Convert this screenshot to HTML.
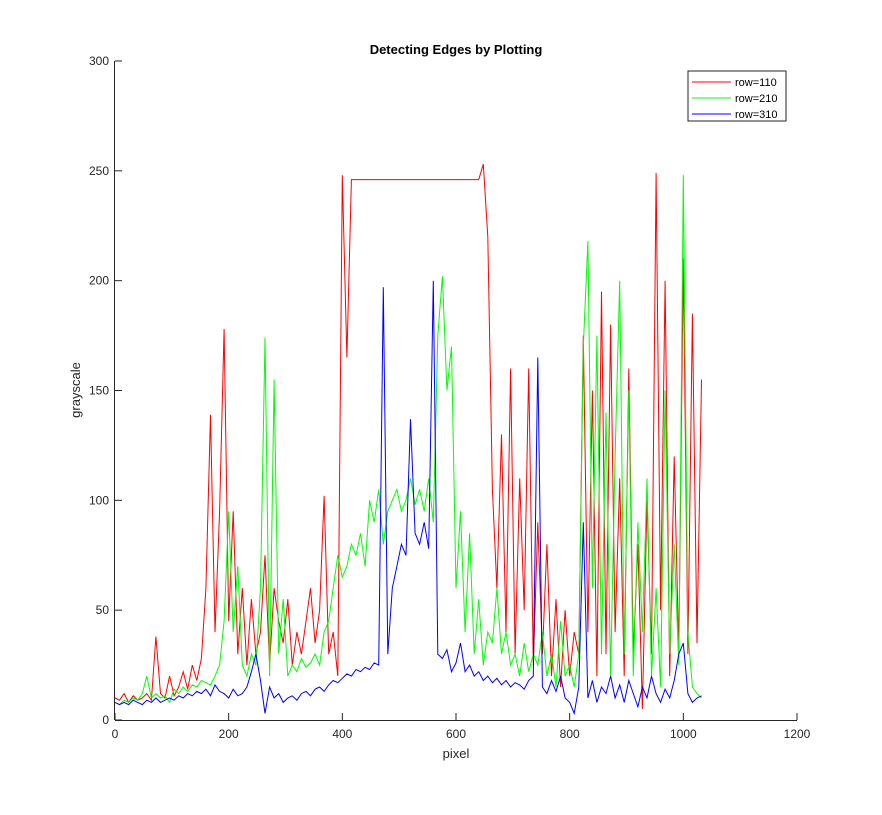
<!DOCTYPE html>
<html><head><meta charset="utf-8"><style>
body{margin:0;background:#fff;}
svg text{font-family:"Liberation Sans",Arial,sans-serif;}
</style></head><body>
<svg id="chart" width="882" height="810" xmlns="http://www.w3.org/2000/svg">
<rect width="882" height="810" fill="#fff"/>
<text x="456" y="54" text-anchor="middle" font-size="13" font-weight="bold" fill="#000">Detecting Edges by Plotting</text>
<g id="plot"></g>
<g id="axes"></g>
<text x="456" y="758" text-anchor="middle" font-size="13" fill="#262626">pixel</text>
<text x="80" y="390" text-anchor="middle" font-size="13" fill="#262626" transform="rotate(-90 80 390)">grayscale</text>
<g>
<rect x="688" y="71" width="98" height="50" fill="#fff" stroke="#262626" stroke-width="1"/>
<line x1="692" y1="82" x2="731" y2="82" stroke="#f00"/><text x="735" y="86" font-size="11">row=110</text>
<line x1="692" y1="98" x2="731" y2="98" stroke="#0f0"/><text x="735" y="102" font-size="11">row=210</text>
<line x1="692" y1="114" x2="731" y2="114" stroke="#00f"/><text x="735" y="118" font-size="11">row=310</text>
</g>
</svg>
<script>
const xStep = 8;
const xTicks = [0,200,400,600,800,1000,1200];
const yTicks = [0,50,100,150,200,250,300];
const red = [10,9,12,8,11,9,10,12,9,38,12,10,20,11,15,22,14,25,18,28,60,139,40,95,178,45,95,30,60,25,55,30,40,75,25,60,45,35,55,25,40,30,45,60,35,50,102,30,40,20,248,165,
246,246,246,246,246,246,246,246,246,246,246,246,246,246,246,246,246,246,246,246,246,246,246,246,246,246,246,246,246,
253,220,105,60,130,40,160,30,110,50,160,25,90,30,80,20,55,15,50,20,40,30,175,40,150,20,195,30,180,40,110,20,160,30,80,5,100,30,249,50,200,20,120,30,210,30,185,35,155];
const green = [8,7,9,8,10,9,12,20,10,12,10,11,8,14,12,15,13,16,15,18,17,16,20,25,45,95,40,70,25,20,30,25,60,174,20,155,30,55,20,25,22,28,24,26,30,25,40,45,60,75,65,70,80,75,85,70,100,90,105,80,95,100,105,95,100,110,98,105,95,110,90,175,202,150,170,60,95,40,85,30,55,25,40,35,60,30,40,25,30,20,35,22,30,25,40,20,30,15,45,20,25,15,30,170,218,60,175,30,140,20,120,200,30,150,20,90,40,110,20,60,15,150,30,80,25,248,40,15,12,10];
const blue = [8,7,8,7,9,8,7,9,8,10,8,9,10,9,11,10,12,11,13,12,14,11,16,13,12,10,14,11,12,15,22,30,18,3,15,10,12,8,10,11,9,12,13,11,14,15,13,16,18,17,19,21,20,23,22,24,23,26,25,197,30,60,70,80,75,137,85,80,90,78,200,30,28,32,22,26,35,22,25,20,22,18,20,17,19,16,18,15,17,16,14,18,20,165,15,12,18,13,20,10,8,3,15,90,10,18,8,15,12,20,10,16,8,18,12,6,15,10,20,12,8,14,10,18,30,35,12,8,10,11];
const X0=115,X1=797,Y0=720,Y1=61;
const xs=v=>X0+(v/1200)*(X1-X0);
const ys=v=>Y0-(v/300)*(Y0-Y1);
const NS="http://www.w3.org/2000/svg";
const plot=document.getElementById('plot'), axes=document.getElementById('axes');
function series(data,color,name){
  const pts=data.map((v,i)=>xs(i*xStep).toFixed(1)+","+ys(v).toFixed(1)).join(" ");
  const p=document.createElementNS(NS,'polyline');
  p.setAttribute('points',pts);p.setAttribute('fill','none');p.setAttribute('stroke',color);p.setAttribute('stroke-width','1');
  
  
  plot.appendChild(p);
}
series(red,'#f00','series-row-110');
series(green,'#0f0','series-row-210');
series(blue,'#00f','series-row-310');
function ln(x1,y1,x2,y2){const l=document.createElementNS(NS,'line');l.setAttribute('x1',x1);l.setAttribute('y1',y1);l.setAttribute('x2',x2);l.setAttribute('y2',y2);l.setAttribute('stroke','#262626');axes.appendChild(l);return l;}
function tx(x,y,s,anchor){const t=document.createElementNS(NS,'text');t.setAttribute('x',x);t.setAttribute('y',y);t.setAttribute('text-anchor',anchor);t.setAttribute('font-size','12');t.setAttribute('fill','#262626');t.textContent=s;


axes.appendChild(t);}
const xa=ln(X0,Y0+0.5,X1,Y0+0.5);


const ya=ln(X0-0.5,Y0,X0-0.5,Y1);


xTicks.forEach(v=>{const x=xs(v);ln(x,Y0,x,Y0-7);tx(x,738,String(v),'middle');});
yTicks.forEach(v=>{const y=ys(v);ln(X0,y,X0+7,y);tx(X0-6,y+4,String(v),'end');});
</script>
</body></html>
